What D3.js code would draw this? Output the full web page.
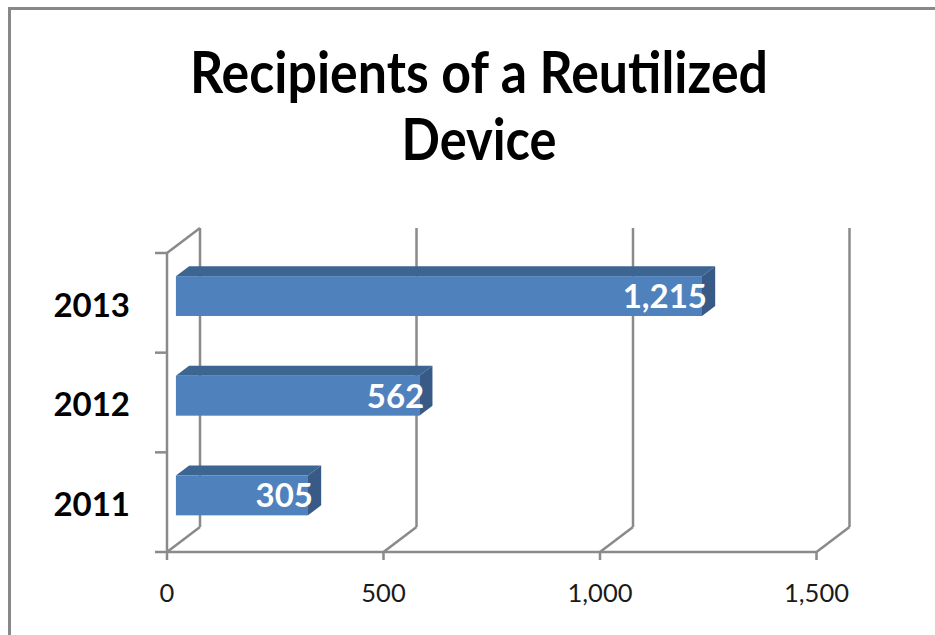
<!DOCTYPE html>
<html><head><meta charset="utf-8">
<script src="https://cdn.jsdelivr.net/npm/d3@7"></script>
<style>body{margin:0;background:#fff}svg{display:block}</style>
</head><body>
<script>
const categories = ["2013", "2012", "2011"];
const values = [1215, 562, 305];
const valueLabels = ["1,215", "562", "305"];
const xTicks = [0, 500, 1000, 1500];
const xTickLabels = ["0", "500", "1,000", "1,500"];
const titleLines = ["Recipients of a Reutilized", "Device"];

const W = 935, H = 635;
const FONT = "Lato, 'Open Sans', sans-serif";
const svg = d3.select("body").append("svg").attr("width", W).attr("height", H);

svg.append("rect").attr("x", 9.5).attr("y", 8.5).attr("width", 1000).attr("height", 700)
  .attr("fill", "#fff").attr("stroke", "#888").attr("stroke-width", 3);

const x = d3.scaleLinear().domain([0, 1500]).range([167, 816.5]);
const y = d3.scaleBand().domain(categories).range([253, 552]).padding(0);
const depth = { dx: 33, dy: -25 };
const f0 = 0.27, f1 = 0.67;
const P = (v, yy, f) => [x(v) + depth.dx * f, yy + depth.dy * f];
const gridColor = "#8a8a8a", gw = 2.5;
const yTop = y.range()[0], yBot = y.range()[1];

const grid = svg.append("g").attr("stroke", gridColor).attr("stroke-width", gw).attr("fill", "none");
const line = (a, b) => grid.append("line").attr("x1", a[0]).attr("y1", a[1]).attr("x2", b[0]).attr("y2", b[1]);

// back wall verticals + floor diagonals
xTicks.forEach(t => {
  line(P(t, yBot, 1), P(t, yTop, 1));
  line(P(t, yBot, 0), P(t, yBot, 1));
});
// side wall
line(P(0, yTop, 0), P(0, yBot, 0));
line(P(0, yTop, 0), P(0, yTop, 1));
// front floor edge
line(P(0, yBot, 0), P(1500, yBot, 0));
// category ticks
const boundaries = [yTop].concat(categories.map(c => y(c) + y.bandwidth()));
boundaries.forEach(b => line([x(0) - 12, b], [x(0), b]));
// value ticks
xTicks.forEach(t => line([x(t), yBot], [x(t), yBot + 8]));

// bars
const bars = svg.append("g");
categories.forEach((c, i) => {
  const v = values[i];
  const yc = y(c) + y.bandwidth() / 2;
  const h = y.bandwidth() * 0.4;
  const t = yc - h / 2, b = yc + h / 2;
  const a0 = P(0, t, f0), a1 = P(v, t, f0), a2 = P(v, t, f1), a3 = P(0, t, f1);
  bars.append("polygon").attr("points", [a0, a1, a2, a3].map(p => p.join(",")).join(" "))
    .attr("fill", "#3d6592");
  const s0 = P(v, t, f0), s1 = P(v, t, f1), s2 = P(v, b, f1), s3 = P(v, b, f0);
  bars.append("polygon").attr("points", [s0, s1, s2, s3].map(p => p.join(",")).join(" "))
    .attr("fill", "#375a86");
  const fl = P(0, t, f0), fr = P(v, b, f0);
  bars.append("rect").attr("x", fl[0]).attr("y", fl[1]).attr("width", fr[0] - fl[0]).attr("height", fr[1] - fl[1])
    .attr("fill", "#4f81bd");
  const lp = P(v, yc, f0);
  bars.append("text").attr("x", lp[0] + 5).attr("y", lp[1]).attr("dy", "0.36em")
    .attr("text-anchor", "end").attr("fill", "#fff").attr("font-family", FONT)
    .attr("font-weight", "bold").attr("font-size", 33).text(valueLabels[i]);
  svg.append("text").attr("x", 130).attr("y", yc + 2).attr("dy", "0.36em")
    .attr("text-anchor", "end").attr("fill", "#000").attr("font-family", FONT)
    .attr("font-weight", "bold").attr("font-size", 33).text(c);
});

// x tick labels
xTicks.forEach((t, i) => {
  svg.append("text").attr("x", x(t)).attr("y", 602).attr("text-anchor", "middle")
    .attr("fill", "#1a1a1a").attr("font-family", FONT).attr("font-size", 25.5).text(xTickLabels[i]);
});

// title
const titleBase = [93, 160];
const titleWidth = [578, 155];
titleLines.forEach((s, i) => {
  svg.append("text").attr("x", 479).attr("y", titleBase[i]).attr("text-anchor", "middle")
    .attr("font-family", FONT).attr("font-weight", "bold").attr("font-size", 58)
    .attr("textLength", titleWidth[i]).attr("lengthAdjust", "spacingAndGlyphs")
    .attr("fill", "#000").text(s);
});
</script>
</body></html>
